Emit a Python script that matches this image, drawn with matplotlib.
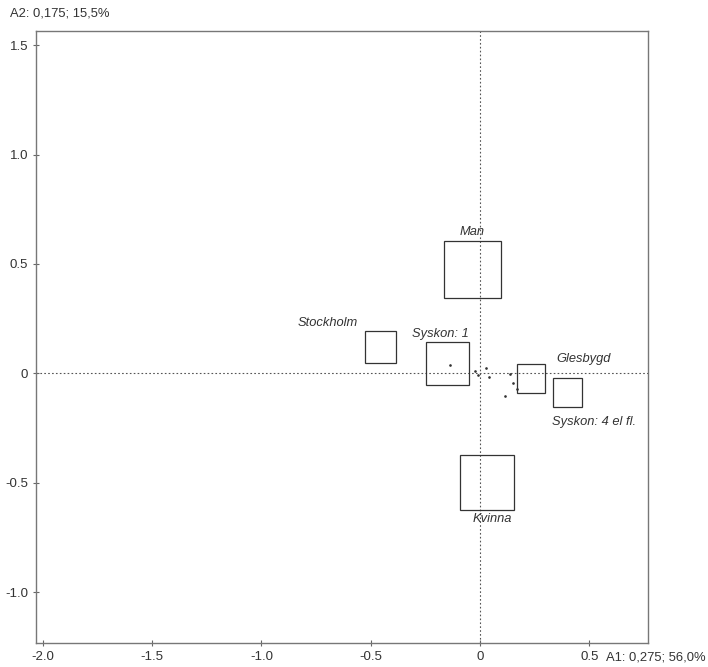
import numpy as np
import matplotlib
matplotlib.use("Agg")
import matplotlib.pyplot as plt
from matplotlib.patches import Rectangle

plt.rcParams['font.family'] = ['Liberation Sans', 'DejaVu Sans']

# category boxes: centre (A1, A2) and side length (weight)
labels = ['Man', 'Kvinna', 'Stockholm', 'Syskon: 1', 'Glesbygd', 'Syskon: 4 el fl.']
a1 = [-0.034, 0.034, -0.457, -0.150, 0.233, 0.400]
a2 = [0.473, -0.498, 0.121, 0.046, -0.023, -0.089]
side = [0.260, 0.247, 0.142, 0.196, 0.132, 0.132]

# small individual points
pt_a1 = [-0.137, -0.021, -0.011, 0.025, 0.039, 0.135, 0.149, 0.170, 0.114]
pt_a2 = [0.037, 0.011, -0.007, 0.026, -0.015, -0.001, -0.044, -0.072, -0.104]

xticks = [-2.0, -1.5, -1.0, -0.5, 0, 0.5]
xticklabels = ['-2.0', '-1.5', '-1.0', '-0.5', '0', '0.5']
yticks = [-1.0, -0.5, 0, 0.5, 1.0, 1.5]
yticklabels = ['-1.0', '-0.5', '0', '0.5', '1.0', '1.5']

# label placement relative to each box (dx, dy in data units, ha, va, box edge)
label_pos = {
    'Man': (0.0, 0.015, 'center', 'bottom', 'top'),
    'Kvinna': (0.02, -0.015, 'center', 'top', 'bottom'),
    'Stockholm': (-0.24, 0.01, 'center', 'bottom', 'top'),
    'Syskon: 1': (-0.03, 0.01, 'center', 'bottom', 'top'),
    'Glesbygd': (0.24, -0.005, 'center', 'bottom', 'top'),
    'Syskon: 4 el fl.': (0.12, -0.04, 'center', 'top', 'bottom'),
}

fig = plt.figure(figsize=(7.08, 6.67), dpi=100)
ax = fig.add_axes([0.0508, 0.036, 0.8644, 0.9175])

ax.axhline(0, color='#555555', lw=0.8, ls=(0, (1.5, 2)), zorder=1)
ax.axvline(0, color='#555555', lw=0.8, ls=(0, (1.5, 2)), zorder=1)

for lab, x, y, s in zip(labels, a1, a2, side):
    ax.add_patch(Rectangle((x - s / 2, y - s / 2), s, s, fill=False,
                           edgecolor='#333333', lw=0.9, zorder=2))
    dx, dy, ha, va, edge = label_pos[lab]
    ty = y + s / 2 + dy if edge == 'top' else y - s / 2 + dy
    ax.text(x + dx, ty, lab, ha=ha, va=va, style='italic', fontsize=9.3,
            color='#333333')

ax.scatter(pt_a1, pt_a2, s=0.8, color='#333333', zorder=3)

ax.set_xlim(-2.031, 0.768)
ax.set_ylim(-1.231, 1.564)
ax.set_xticks(xticks)
ax.set_xticklabels(xticklabels)
ax.set_yticks(yticks)
ax.set_yticklabels(yticklabels)
ax.tick_params(direction='inout', length=5, width=0.8, color='#666666',
               labelsize=9.5, labelcolor='#333333', pad=3)
for sp in ax.spines.values():
    sp.set_color('#777777')
    sp.set_linewidth(1.0)

fig.text(10 / 708, 1 - 14 / 667, 'A2: 0,175; 15,5%', ha='left', va='center',
         fontsize=9.4, color='#333333')
fig.text(606 / 708, 1 - 658 / 667, 'A1: 0,275; 56,0%', ha='left', va='center',
         fontsize=9.4, color='#333333')

fig.savefig('out.png', dpi=100)
